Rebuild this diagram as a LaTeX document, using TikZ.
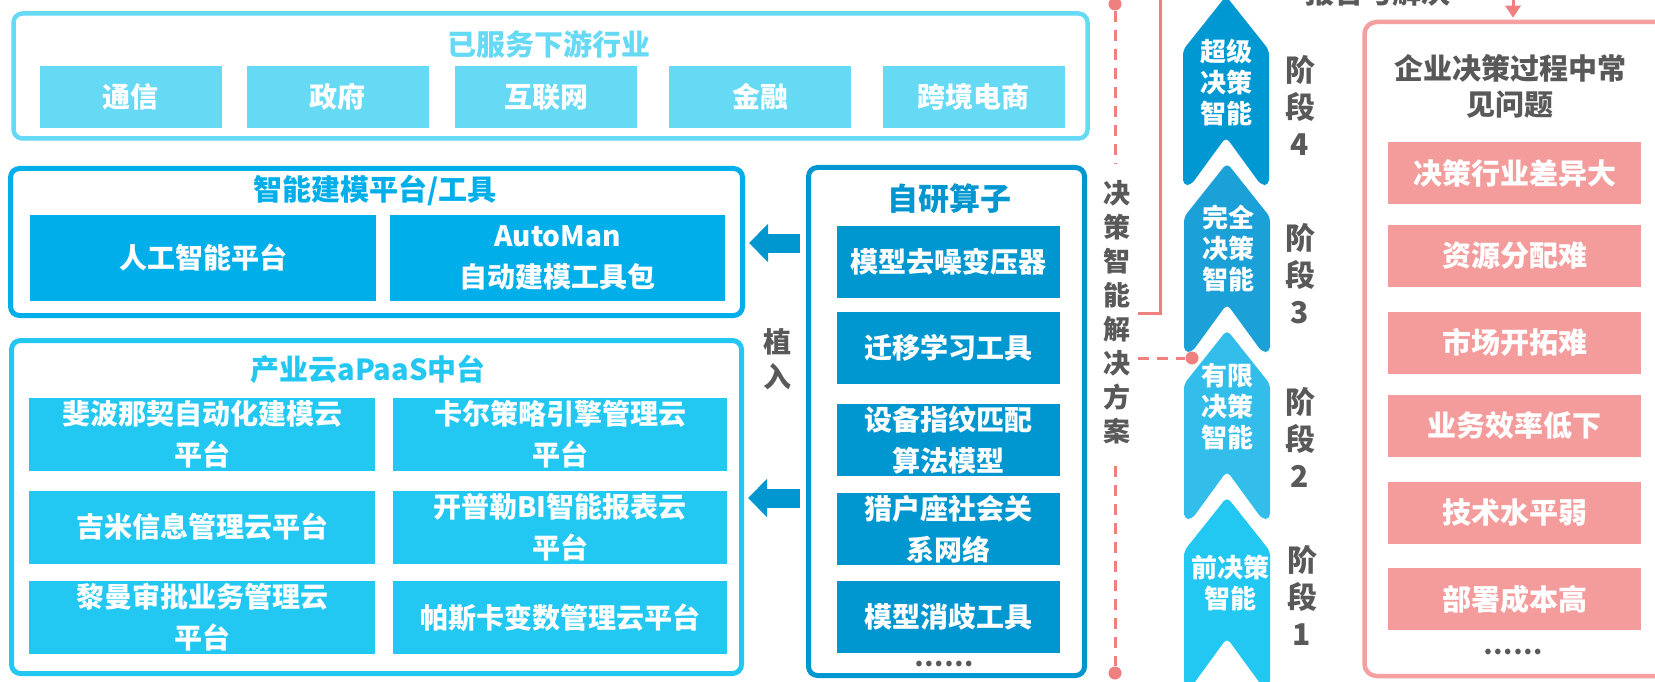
\documentclass[tikz,border=0pt]{standalone}
\usepackage{fontspec}
\setmainfont{Noto Sans CJK SC}
\usetikzlibrary{arrows.meta,calc}
\definecolor{cA}{HTML}{66D9F5}
\definecolor{cB}{HTML}{00AEEA}
\definecolor{cC}{HTML}{22C8F2}
\definecolor{cD}{HTML}{0097D1}
\definecolor{sF}{HTML}{0098D3}
\definecolor{sT}{HTML}{1BA0D8}
\definecolor{sS}{HTML}{33BDEB}
\definecolor{sO}{HTML}{22C8F2}
\definecolor{pk}{HTML}{F49B9B}
\definecolor{pkl}{HTML}{F4A0A0}
\definecolor{rd}{HTML}{F08080}
\definecolor{gt}{HTML}{595959}
\newcommand{\mychev}[3]{%
  \fill[#3, rounded corners=5pt] (#1,#2) -- ({#1+43},{#2+54}) -- ({#1+43},{#2+189}) -- ({#1+35},{#2+189}) -- (#1,{#2+141}) -- ({#1-35},{#2+189}) -- ({#1-43},{#2+189}) -- ({#1-43},{#2+54}) -- cycle;}
\begin{document}
\begin{tikzpicture}[x=1pt,y=-1pt,
  frame/.style={draw, line width=5pt, rounded corners=9pt, inner sep=0pt},
  ttl/.style={font=\bfseries\fontsize{29}{35}\selectfont, inner sep=0pt},
  bx/.style={inner sep=0pt, text=white, align=center, font=\bfseries\fontsize{28}{41}\selectfont},
  gtxt/.style={text=gt, align=center, inner sep=0pt},
  chtxt/.style={text=white, align=center, inner sep=0pt, font=\bfseries\fontsize{26}{31}\selectfont},
  stg/.style={gtxt, font=\bfseries\fontsize{30}{37}\selectfont},
  dot/.style={circle, fill=rd, inner sep=0pt, minimum size=13pt},
  rdash/.style={draw=rd, line width=3pt, dash pattern=on 11pt off 8pt},
  blockarrow/.style={draw=cD, line width=19pt, -{Triangle[length=19pt,width=37pt]}},
  pbox/.style={bx, fill=pk, minimum width=253pt, minimum height=62pt, font=\bfseries\fontsize{29}{35}\selectfont}
]
\useasboundingbox (0,0) rectangle (1655,682);
\clip (0,0) rectangle (1655,682);

% ---------- top frame ----------
\node[frame, draw=cA, line width=4.5pt, minimum width=1074pt, minimum height=125pt] (f1) at (550.5,76) {};
\node[ttl, text=cA] (t1) at (549,44) {已服务下游行业};
\node[bx, fill=cA, minimum width=182pt, minimum height=62pt] (i1) at (130.5,97) {通信};
\node[bx, fill=cA, minimum width=182pt, minimum height=62pt] (i2) at (337.5,97) {政府};
\node[bx, fill=cA, minimum width=182pt, minimum height=62pt] (i3) at (546,97) {互联网};
\node[bx, fill=cA, minimum width=182pt, minimum height=62pt] (i4) at (760,97) {金融};
\node[bx, fill=cA, minimum width=182pt, minimum height=62pt] (i5) at (973.5,97) {跨境电商};

% ---------- modelling platform ----------
\node[frame, draw=cB, minimum width=732pt, minimum height=147pt] (f2) at (376.5,242) {};
\node[ttl, text=cB] (t2) at (375,190) {智能建模平台/工具};
\node[bx, fill=cB, minimum width=346pt, minimum height=86pt] (m1) at (203,258) {人工智能平台};
\node[bx, fill=cB, minimum width=335pt, minimum height=86pt] (m2) at (557.5,258) {AutoMan\\自动建模工具包};

% ---------- aPaaS ----------
\node[frame, draw=cC, minimum width=730pt, minimum height=333pt] (f3) at (376.5,507) {};
\node[ttl, text=cC] (t3) at (368,369) {产业云aPaaS中台};
\node[bx, fill=cC, minimum width=346pt, minimum height=73pt] (p1) at (202,434.5) {斐波那契自动化建模云\\平台};
\node[bx, fill=cC, minimum width=334pt, minimum height=73pt] (p2) at (560,434.5) {卡尔策略引擎管理云\\平台};
\node[bx, fill=cC, minimum width=346pt, minimum height=73pt] (p3) at (202,527) {吉米信息管理云平台};
\node[bx, fill=cC, minimum width=334pt, minimum height=73pt] (p4) at (560,527) {开普勒BI智能报表云\\平台};
\node[bx, fill=cC, minimum width=346pt, minimum height=73pt] (p5) at (202,617.5) {黎曼审批业务管理云\\平台};
\node[bx, fill=cC, minimum width=334pt, minimum height=73pt] (p6) at (560,617.5) {帕斯卡变数管理云平台};

% ---------- own operators ----------
\node[frame, draw=cD, minimum width=276pt, minimum height=508pt] (f4) at (946.5,421.5) {};
\node[ttl, text=cD, font=\bfseries\fontsize{31}{36}\selectfont] (t4) at (949,199) {自研算子};
\node[bx, fill=cD, minimum width=223pt, minimum height=72pt] (z1) at (948.5,261.5) {模型去噪变压器};
\node[bx, fill=cD, minimum width=223pt, minimum height=72pt] (z2) at (948.5,348) {迁移学习工具};
\node[bx, fill=cD, minimum width=223pt, minimum height=72pt] (z3) at (948.5,440) {设备指纹匹配\\算法模型};
\node[bx, fill=cD, minimum width=223pt, minimum height=72pt] (z4) at (948.5,529) {猎户座社会关\\系网络};
\node[bx, fill=cD, minimum width=223pt, minimum height=72pt] (z5) at (948.5,616.5) {模型消歧工具};
\node[gtxt, font=\bfseries\fontsize{26}{30}\selectfont] (zd) at (944,664) {……};

% ---------- arrows ----------
\coordinate (ya) at (0,243);
\coordinate (yb) at (0,498);
\draw[blockarrow] ($(f4.west |- ya)+(-6,0)$) -- ($(f2.east |- ya)+(4,0)$);
\draw[blockarrow] ($(f4.west |- yb)+(-6,0)$) -- ($(f3.east |- yb)+(4,0)$);
\node[gtxt, font=\bfseries\fontsize{28}{35}\selectfont] (zr) at (777,359) {植\\入};

% ---------- stages ----------
\mychev{1226}{-4}{sF}
\mychev{1227}{163}{sT}
\mychev{1227}{330}{sS}
\mychev{1227}{497}{sO}
\node[chtxt] (c4) at (1226,82) {超级\\决策\\智能};
\node[chtxt] (c3) at (1228,248) {完全\\决策\\智能};
\node[chtxt] (c2) at (1227,407) {有限\\决策\\智能};
\node[chtxt] (c1) at (1230,583) {前决策\\智能};
\node[stg] (g4) at (1300,105) {阶\\段\\4};
\node[stg] (g3) at (1300,274) {阶\\段\\3};
\node[stg] (g2) at (1300,437) {阶\\段\\2};
\node[stg] (g1) at (1302,595) {阶\\段\\1};

% ---------- decision solution line ----------
\node[gtxt, font=\bfseries\fontsize{27}{34}\selectfont] (jc) at (1117,312) {决\\策\\智\\能\\解\\决\\方\\案};
\node[dot] (d1) at (1115,4) {};
\node[dot] (d2) at (1115,673) {};
\node[dot] (d3) at (1192,358) {};
\draw[rdash, shorten >=17pt] (d1) -- (d1 |- jc.north);
\draw[rdash, shorten <=22pt] (d2 |- jc.south) -- (d2);
\draw[rdash, shorten <=7pt] (jc.east |- d3) -- (d3);
\coordinate (rtop) at (1160,-5);
\coordinate (rend) at (1138,313);
\draw[rd, line width=3pt] (rtop) |- (rend);

% ---------- problems panel ----------
\node[gtxt, anchor=base, font=\bfseries\fontsize{29}{35}\selectfont] (toptx) at (1378,4) {报告与解决};
\node[frame, draw=pkl, line width=4.5pt, rounded corners=12pt, minimum width=320pt, minimum height=654pt] (pp) at (1524.5,349) {};
\coordinate (ptop) at (1513,-5);
\draw[rd, line width=3pt, -{Triangle[length=12pt,width=15pt]}, shorten >=2pt] (ptop) -- (ptop |- pp.north);
\node[gtxt, font=\bfseries\fontsize{29}{36}\selectfont] (pt) at (1510,86) {企业决策过程中常\\见问题};
\node[pbox] (q1) at (1514.5,173) {决策行业差异大};
\node[pbox] (q2) at (1514.5,256) {资源分配难};
\node[pbox] (q3) at (1514.5,342.5) {市场开拓难};
\node[pbox] (q4) at (1514.5,425.5) {业务效率低下};
\node[pbox] (q5) at (1514.5,512.5) {技术水平弱};
\node[pbox] (q6) at (1514.5,599) {部署成本高};
\node[gtxt, font=\bfseries\fontsize{26}{30}\selectfont] (qd) at (1513,652) {……};
\end{tikzpicture}
\end{document}
